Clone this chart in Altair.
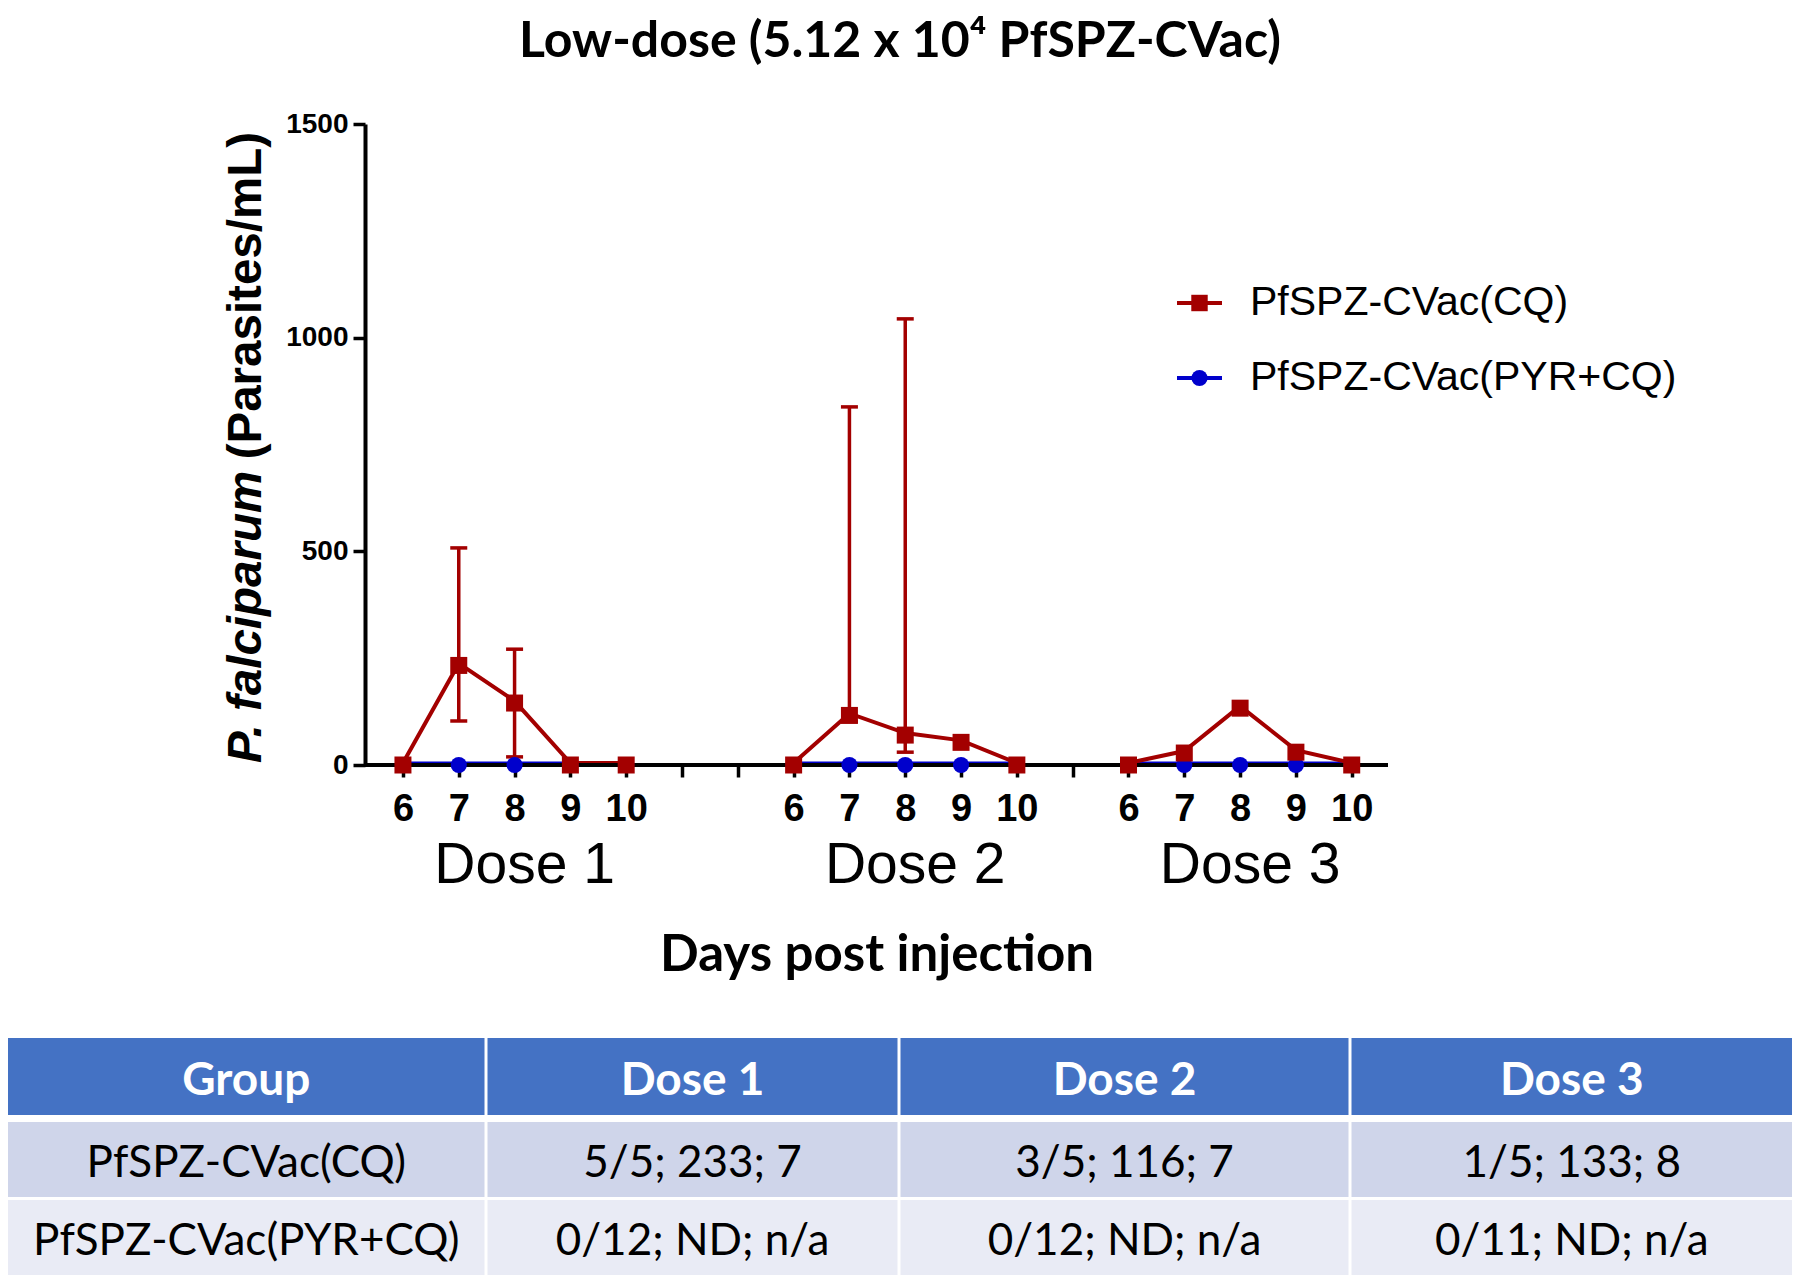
import altair as alt
import pandas as pd

# ---------------- chart values ----------------
SERIES = ["PfSPZ-CVac(CQ)", "PfSPZ-CVac(PYR+CQ)"]
DOSES = ["Dose 1", "Dose 2", "Dose 3"]
DAYS = [6, 7, 8, 9, 10]
DOSE_FIRST_SLOT = [0, 7, 13]      # axis slot of day 6 for each dose
N_SLOTS = 18                      # ticks on the x axis

CQ_DOSE1 = [0, 233, 145, 0, 0]
CQ_DOSE2 = [0, 116, 70, 53, 0]
CQ_DOSE3 = [0, 28, 133, 30, 0]
PYR_DOSE1 = [0, 0, 0, 0, 0]
PYR_DOSE2 = [0, 0, 0, 0, 0]
PYR_DOSE3 = [0, 0, 0, 0, 0]

ERR_DOSE = ["Dose 1", "Dose 1", "Dose 2", "Dose 2"]
ERR_DAY = [7, 8, 7, 8]
ERR_LOW = [103, 19, 102, 30]
ERR_HIGH = [508, 271, 838, 1044]

Y_TICKS = [0, 500, 1000, 1500]

TABLE_HEADER = ["Group", "Dose 1", "Dose 2", "Dose 3"]
TABLE_ROW_CQ = ["PfSPZ-CVac(CQ)", "5/5; 233; 7", "3/5; 116; 7", "1/5; 133; 8"]
TABLE_ROW_PYR = ["PfSPZ-CVac(PYR+CQ)", "0/12; ND; n/a", "0/12; ND; n/a", "0/11; ND; n/a"]

TITLE = "Low-dose (5.12 x 10\u2074 PfSPZ-CVac)"
X_TITLE = "Days post injection"
Y_TITLE_ITALIC = "P. falciparum"
Y_TITLE_REST = "(Parasites/mL)"

# ---------------- layout / style ----------------
W, H = 1023, 641
PAD = {"left": 357, "top": 116, "right": 404, "bottom": 510}
X_DOMAIN = [-0.68, 17.65]
COLORS = ["#A30000", "#0000CC"]
ARIAL = "Liberation Sans"
CALIBRI = "Lato"
COL_EDGES = [-357, 121, 534, 985, 1427]
ROW_EDGES = [(914, 991), (998, 1073), (1076, 1151)]
ROW_FILLS = ["#4472C4", "#CFD5EA", "#E9EBF5"]
GAP = 1.5

# ---------------- build tables ----------------
series_values = [
    (SERIES[0], DOSES[0], CQ_DOSE1), (SERIES[0], DOSES[1], CQ_DOSE2), (SERIES[0], DOSES[2], CQ_DOSE3),
    (SERIES[1], DOSES[0], PYR_DOSE1), (SERIES[1], DOSES[1], PYR_DOSE2), (SERIES[1], DOSES[2], PYR_DOSE3),
]
rows = []
for s, d, vals in series_values:
    first = DOSE_FIRST_SLOT[DOSES.index(d)]
    for i, (day, v) in enumerate(zip(DAYS, vals)):
        rows.append(dict(series=s, dose=d, day=day, slot=first + i, value=v))
df = pd.DataFrame(rows)


def slot_of(dose, day):
    return DOSE_FIRST_SLOT[DOSES.index(dose)] + DAYS.index(day)


err_df = pd.DataFrame(dict(
    slot=[slot_of(d, dy) for d, dy in zip(ERR_DOSE, ERR_DAY)],
    low=ERR_LOW, high=ERR_HIGH))
caps_df = pd.concat([
    pd.DataFrame(dict(slot=err_df.slot, value=err_df.low)),
    pd.DataFrame(dict(slot=err_df.slot, value=err_df.high))])

dose_df = pd.DataFrame(dict(
    dose=DOSES,
    center=[first + (len(DAYS) - 1) / 2 for first in DOSE_FIRST_SLOT]))

slot_labels = [""] * N_SLOTS
for first in DOSE_FIRST_SLOT:
    for i, day in enumerate(DAYS):
        slot_labels[first + i] = str(day)
label_expr = "[" + ",".join("'%s'" % l for l in slot_labels) + "][round(datum.value)]"

cells = []
for r, row in enumerate([TABLE_HEADER, TABLE_ROW_CQ, TABLE_ROW_PYR]):
    y1, y2 = ROW_EDGES[r]
    for c, txt in enumerate(row):
        x1 = COL_EDGES[c] + (GAP if c > 0 else 0)
        x2 = COL_EDGES[c + 1] - (GAP if c < len(row) - 1 else 0)
        cells.append(dict(row=r, x1=x1, x2=x2, y1=y1, y2=y2,
                          xc=(x1 + x2) / 2, yc=(y1 + y2) / 2, text=txt))
cells_df = pd.DataFrame(cells)
leg_df = pd.DataFrame(dict(series=SERIES))
one = pd.DataFrame(dict(a=[0]))

# ---------------- scales / axes ----------------
x_scale = alt.Scale(domain=X_DOMAIN, nice=False, zero=False)
y_scale = alt.Scale(domain=[0, 1500], nice=False, zero=False)
x_axis = alt.Axis(values=list(range(N_SLOTS)), labelExpr=label_expr, domain=False, grid=False,
                  tickSize=12, tickWidth=3.5, tickColor="black",
                  labelFont=ARIAL, labelFontWeight="bold", labelFontSize=38, labelColor="black",
                  labelPadding=13, labelAngle=0, labelOverlap=False, labelFlush=False,
                  title=X_TITLE, titleFont=CALIBRI, titleFontSize=51, titleFontWeight="bold",
                  titleColor="black", titleX=W / 2, titleY=190, titleBaseline="middle")
y_axis = alt.Axis(values=Y_TICKS, format="d", domain=True, domainColor="black", domainWidth=4,
                  grid=False, tickSize=12, tickWidth=3.5, tickColor="black",
                  labelFont=ARIAL, labelFontWeight="bold", labelFontSize=28, labelColor="black",
                  labelPadding=5, labelFlush=False, title=None)


def X(field):
    return alt.X(field, type="quantitative", scale=x_scale, axis=x_axis)


def Y(field):
    return alt.Y(field, type="quantitative", scale=y_scale, axis=y_axis)


color_enc = alt.Color("series:N", scale=alt.Scale(domain=SERIES, range=COLORS), legend=None)

base = alt.Chart(df)
is_cq = alt.datum.series == SERIES[0]
is_pyr = alt.datum.series == SERIES[1]

line_pyr = base.transform_filter(is_pyr).mark_line(strokeWidth=3, yOffset=-2).encode(
    x=X("slot"), y=Y("value"), color=color_enc, detail="dose:N", order="slot:Q")
line_cq = base.transform_filter(is_cq).mark_line(strokeWidth=4, yOffset=-2).encode(
    x=X("slot"), y=Y("value"), color=color_enc, detail="dose:N", order="slot:Q")
err_rule = alt.Chart(err_df).mark_rule(strokeWidth=3.5, color=COLORS[0]).encode(
    x=X("slot"), y=Y("low"), y2="high")
err_caps = alt.Chart(caps_df).mark_tick(orient="horizontal", size=17, thickness=3.5,
                                        color=COLORS[0], opacity=1).encode(
    x=X("slot"), y=Y("value"))
axis_rule = alt.Chart(one).mark_rule(color="black", strokeWidth=4).encode(
    x=alt.value(0), x2=alt.value(W),
    y=alt.YDatum(0, type="quantitative", scale=y_scale, axis=y_axis))
pts_pyr = base.transform_filter(is_pyr).mark_point(shape="circle", filled=True, opacity=1,
                                                   size=260, strokeWidth=0).encode(
    x=X("slot"), y=Y("value"), color=color_enc)
pts_cq = base.transform_filter(is_cq).mark_point(shape="square", filled=True, opacity=1,
                                                 size=289, strokeWidth=0).encode(
    x=X("slot"), y=Y("value"), color=color_enc)
dose_lbl = alt.Chart(dose_df).mark_text(font=ARIAL, fontSize=57, color="black",
                                        baseline="middle", align="center", dx=10).encode(
    x=X("center"), y=alt.value(742), text="dose:N")

main = alt.layer(line_pyr, line_cq, err_rule, err_caps, axis_rule, pts_pyr, pts_cq, dose_lbl)

# ---------------- table ----------------
tx = alt.Scale(domain=[COL_EDGES[0], COL_EDGES[-1]], range=[COL_EDGES[0], COL_EDGES[-1]],
               nice=False, zero=False)
ty = alt.Scale(domain=[ROW_EDGES[0][0], ROW_EDGES[-1][1]], range=[ROW_EDGES[0][0], ROW_EDGES[-1][1]],
               nice=False, zero=False)
tbase = alt.Chart(cells_df)
table_layers = []
for r in range(3):
    table_layers.append(
        tbase.transform_filter(alt.datum.row == r).mark_rect(color=ROW_FILLS[r], opacity=1).encode(
            x=alt.X("x1:Q", scale=tx, axis=None), x2="x2",
            y=alt.Y("y1:Q", scale=ty, axis=None), y2="y2"))
table_layers.append(
    tbase.transform_filter(alt.datum.row == 0).mark_text(
        font=CALIBRI, fontSize=46, fontWeight="bold", color="white",
        align="center", baseline="middle", dy=4).encode(
        x=alt.X("xc:Q", scale=tx, axis=None), y=alt.Y("yc:Q", scale=ty, axis=None), text="text:N"))
table_layers.append(
    tbase.transform_filter(alt.datum.row > 0).mark_text(
        font=CALIBRI, fontSize=44, color="black",
        align="center", baseline="middle", dy=4).encode(
        x=alt.X("xc:Q", scale=tx, axis=None), y=alt.Y("yc:Q", scale=ty, axis=None), text="text:N"))
table = alt.layer(*table_layers)

# ---------------- legend ----------------
leg_y = alt.Y("series:N", scale=alt.Scale(type="point", domain=SERIES, range=[179, 254], padding=0),
              axis=None)
lbase = alt.Chart(leg_df)
legend = alt.layer(
    lbase.mark_rule(strokeWidth=4).encode(x=alt.value(812), x2=alt.value(857), y=leg_y, color=color_enc),
    lbase.transform_filter(is_cq).mark_point(shape="square", filled=True, opacity=1, size=270,
                                             strokeWidth=0).encode(
        x=alt.value(834.5), y=leg_y, color=color_enc),
    lbase.transform_filter(is_pyr).mark_point(shape="circle", filled=True, opacity=1, size=260,
                                              strokeWidth=0).encode(
        x=alt.value(834.5), y=leg_y, color=color_enc),
    lbase.mark_text(font=ARIAL, fontSize=41, color="black", align="left", baseline="middle").encode(
        x=alt.value(885), y=leg_y, text="series:N"),
)

# ---------------- titles ----------------
title_txt = alt.Chart(one).mark_text(text=TITLE, font=CALIBRI, fontSize=50, fontWeight="bold",
                                     color="black", align="center", baseline="middle").encode(
    x=alt.value(535), y=alt.value(-82))
ytitle_a = alt.Chart(one).mark_text(text=Y_TITLE_ITALIC, font=ARIAL, fontSize=47.5, fontWeight="bold",
                                    fontStyle="italic", color="black", angle=270,
                                    align="left", baseline="middle").encode(
    x=alt.value(-118), y=alt.value(639))
ytitle_b = alt.Chart(one).mark_text(text=Y_TITLE_REST, font=ARIAL, fontSize=47.5, fontWeight="bold",
                                    color="black", angle=270,
                                    align="right", baseline="middle").encode(
    x=alt.value(-118), y=alt.value(8))

chart = alt.layer(main, table, legend, title_txt, ytitle_a, ytitle_b).resolve_scale(
    x="independent", y="independent"
).properties(
    width=W, height=H, padding=PAD, autosize=alt.AutoSizeParams(type="none"),
    background="white"
).configure_view(strokeWidth=0)

chart.save("out.html", embed_options={"renderer": "svg", "actions": False})
